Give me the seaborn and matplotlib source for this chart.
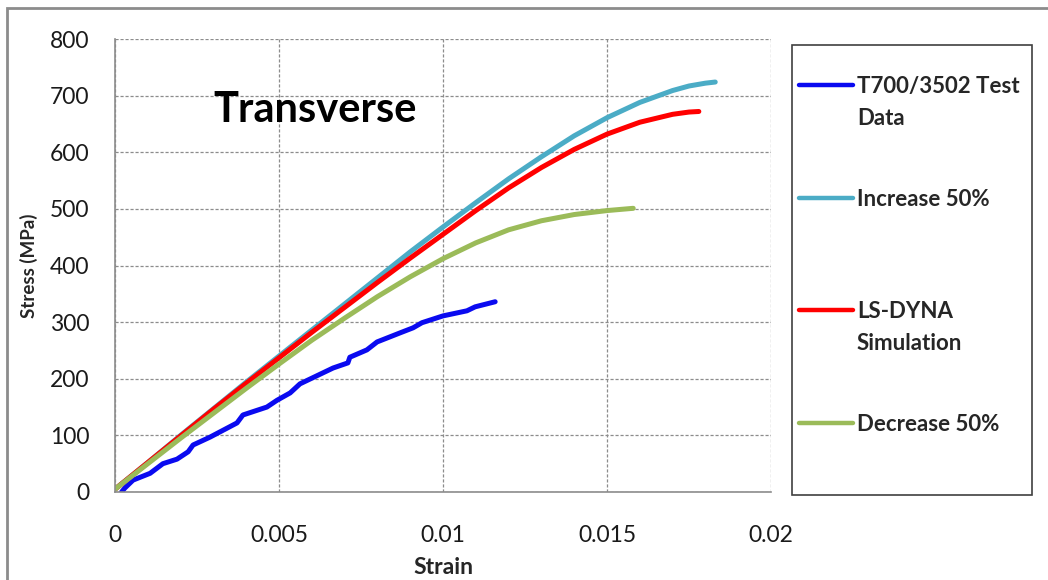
import matplotlib
matplotlib.use("Agg")
import matplotlib.pyplot as plt
from matplotlib.patches import Rectangle
import seaborn as sns

# -------------------------
# DATA
# -------------------------
test_strain = [0.0002, 0.0003, 0.00055, 0.00107, 0.00146, 0.00189, 0.00223, 0.00238,
               0.0029, 0.00372, 0.0039, 0.00463, 0.00494, 0.00534, 0.00564, 0.00665,
               0.0071, 0.00716, 0.00768, 0.00799, 0.00869, 0.00909, 0.00936, 0.0100,
               0.01073, 0.01098, 0.01159]
test_stress = [0, 7, 21, 33, 50, 58, 71, 83, 97, 122, 136, 150, 162, 175, 191, 219,
               228, 238, 251, 265, 281, 290, 299, 311, 320, 327, 336]

inc_strain = [0, 0.001, 0.002, 0.003, 0.004, 0.005, 0.006, 0.007, 0.008, 0.009, 0.010,
              0.011, 0.012, 0.013, 0.014, 0.015, 0.016, 0.017, 0.0175, 0.018, 0.0183]
inc_stress = [5, 52, 100, 147, 194, 240, 286, 332, 378, 424, 468, 511, 553, 592, 629,
              661, 688, 709, 717, 722, 724]

sim_strain = [0, 0.001, 0.002, 0.003, 0.004, 0.005, 0.006, 0.007, 0.008, 0.009, 0.010,
              0.011, 0.012, 0.013, 0.014, 0.015, 0.016, 0.017, 0.0175, 0.0178]
sim_stress = [5, 52, 99, 146, 192, 237, 282, 326, 370, 413, 455, 497, 537, 573, 605,
              632, 653, 667, 671, 672]

dec_strain = [0, 0.001, 0.002, 0.003, 0.004, 0.005, 0.006, 0.007, 0.008, 0.009, 0.010,
              0.011, 0.012, 0.013, 0.014, 0.015, 0.0158]
dec_stress = [5, 50, 95, 139, 183, 226, 268, 307, 345, 380, 412, 440, 463, 479, 490,
              497, 501]

x_ticks = [0, 0.005, 0.01, 0.015, 0.02]
x_ticklabels = ["0", "0.005", "0.01", "0.015", "0.02"]
y_ticks = [0, 100, 200, 300, 400, 500, 600, 700, 800]

# legend text: first line goes into the legend, second line (if any) is added below
series = [
    ("T700/3502 Test", "Data", test_strain, test_stress, "#0a0af0"),
    ("Increase 50%", "", inc_strain, inc_stress, "#4bacc6"),
    ("LS-DYNA", "Simulation", sim_strain, sim_stress, "#ff0000"),
    ("Decrease 50%", "", dec_strain, dec_stress, "#9bbb59"),
]

# -------------------------
# STYLE
# -------------------------
sns.set_style("white")
plt.rcParams["font.family"] = ["Lato", "DejaVu Sans"]
FONT = ["Lato", "DejaVu Sans"]

fig = plt.figure(figsize=(10.48, 5.80), dpi=100)
ax = fig.add_axes([115 / 1048, 88 / 580, 656 / 1048, 453 / 580])

for label, _, xs, ys, col in series:
    sns.lineplot(x=xs, y=ys, ax=ax, color=col, lw=3.6, label=label,
                 sort=False, estimator=None, solid_capstyle="round")

ax.set_xlim(0, 0.02)
ax.set_ylim(0, 800)
ax.set_xticks(x_ticks)
ax.set_xticklabels(x_ticklabels)
ax.set_yticks(y_ticks)

ax.grid(True, color="#8c8c8c", linestyle=(0, (2.5, 1.5)), lw=0.9)
ax.set_axisbelow(True)
for s in ["top", "right"]:
    ax.spines[s].set_visible(False)
for s in ["left", "bottom"]:
    ax.spines[s].set_color("#8c8c8c")
    ax.spines[s].set_linewidth(1.2)

ax.tick_params(axis="both", which="major", direction="out", length=6.5, width=1,
               color="#8c8c8c", labelsize=16.5, labelcolor="#1a1a1a")
ax.tick_params(axis="y", pad=12)
ax.tick_params(axis="x", pad=17)

ax.set_xlabel("Strain", fontsize=16.5, fontweight="bold")
ax.set_ylabel("Stress (MPa)", fontsize=13.5, fontweight="bold")
ax.yaxis.set_label_coords(-77 / 656, 0.5)
ax.xaxis.set_label_coords(0.5, -65 / 453)

ax.text(0.00299, 675, "Transverse", fontsize=30, fontweight="bold", va="center",
        ha="left", color="black")

# legend box + legend
ax.get_legend().remove()
handles, labels = ax.get_legend_handles_labels()
fig.patches.append(Rectangle((792 / 1048, 85 / 580), 240 / 1048, 450 / 580,
                             transform=fig.transFigure, fill=False,
                             edgecolor="#404040", lw=1.2))
leg = fig.legend(handles, labels, loc="upper left",
                 bbox_to_anchor=(799 / 1048, (580 - 76) / 580),
                 frameon=False, borderpad=0, borderaxespad=0,
                 prop={"family": FONT, "weight": "bold", "size": 16},
                 handlelength=2.45, handletextpad=0.15, labelspacing=4.12)
for line in leg.get_lines():
    line.set_linewidth(3.2)

# second lines of the wrapped legend labels
fig.canvas.draw()
W, H = fig.bbox.width, fig.bbox.height
for txt, (_, second, _, _, _) in zip(leg.get_texts(), series):
    if second:
        bb = txt.get_window_extent()
        fig.text(bb.x0 / W, (bb.y0 - 32) / H, second, ha="left", va="bottom",
                 fontsize=16, fontweight="bold", family=FONT)

# outer chart frame
fig.patches.append(Rectangle((7 / 1048, -0.2), 1.2, (580 - 8) / 580 + 0.2,
                             transform=fig.transFigure, fill=False,
                             edgecolor="#8c8c8c", lw=2))

fig.savefig("out.png", dpi=100)
